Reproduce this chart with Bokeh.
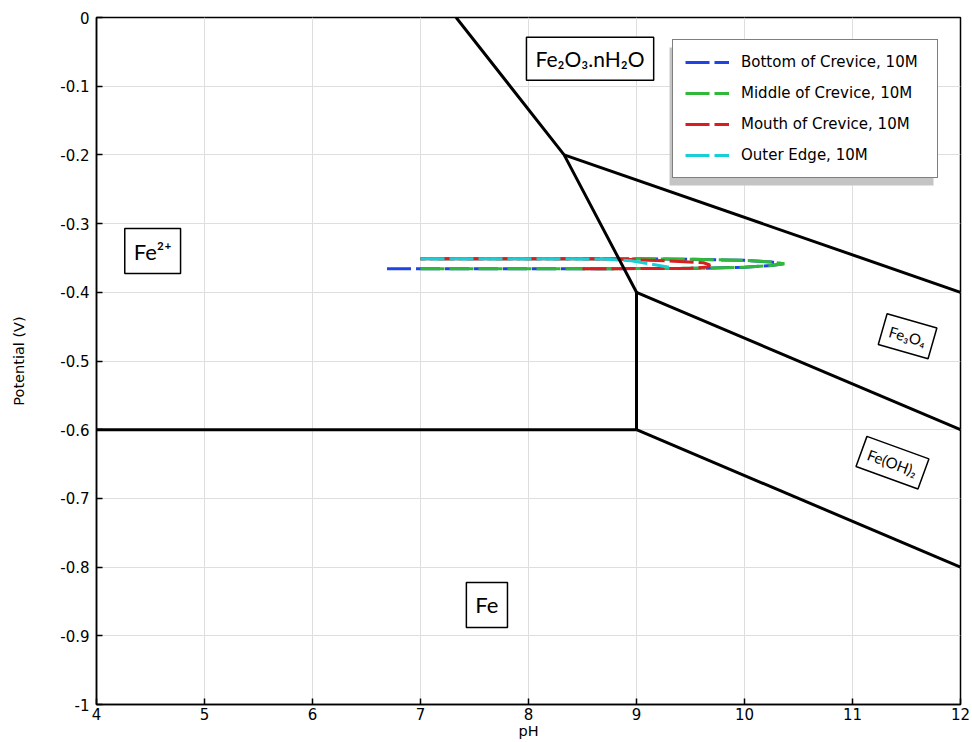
from bokeh.plotting import figure
from bokeh.models import FixedTicker, Label, BoxAnnotation
from bokeh.embed import file_html
from bokeh.resources import INLINE

# Iron Pourbaix boundaries (pH, potential in V)
boundary_ph = [[7.33, 8.33, 9.0, 9.0], [4.0, 9.0], [8.33, 12.0], [9.0, 12.0], [9.0, 12.0]]
boundary_v = [[0.0, -0.2, -0.4, -0.6], [-0.6, -0.6], [-0.2, -0.4], [-0.4, -0.6], [-0.6, -0.8]]

# Crevice trajectories (pH, potential)
bottom_ph = [6.69, 8.0, 9.0, 9.6, 10.0, 10.25, 10.36, 10.25, 10.0, 9.5, 9.0, 8.0, 7.0]
bottom_v = [-0.3658, -0.3658, -0.3655, -0.365, -0.3635, -0.361, -0.3586, -0.356, -0.3535, -0.352, -0.351, -0.351, -0.351]

middle_ph = [7.0, 8.0, 9.0, 9.6, 10.0, 10.25, 10.37, 10.25, 10.0, 9.5, 9.0, 8.0, 7.0]
middle_v = [-0.3658, -0.3658, -0.3655, -0.365, -0.3635, -0.361, -0.3586, -0.356, -0.3535, -0.352, -0.351, -0.351, -0.351]

mouth_ph = [8.5, 9.0, 9.5, 9.66, 9.68, 9.62, 9.3, 8.9, 8.4, 7.0]
mouth_v = [-0.3658, -0.3655, -0.365, -0.363, -0.360, -0.357, -0.3545, -0.352, -0.351, -0.351]

outer_ph = [7.0, 8.0, 8.7, 8.95, 9.1, 9.3]
outer_v = [-0.351, -0.351, -0.3515, -0.354, -0.358, -0.3635]

series_names = ["Bottom of Crevice, 10M", "Middle of Crevice, 10M",
                "Mouth of Crevice, 10M", "Outer Edge, 10M"]
series_ph = [bottom_ph, middle_ph, mouth_ph, outer_ph]
series_v = [bottom_v, middle_v, mouth_v, outer_v]
series_colors = ["#1e44e6", "#2fb83a", "#d81e1e", "#19cfd6"]

x_ticks = [4, 5, 6, 7, 8, 9, 10, 11, 12]
y_ticks = [-1.0, -0.9, -0.8, -0.7, -0.6, -0.5, -0.4, -0.3, -0.2, -0.1, 0.0]
y_tick_labels = ["-1", "-0.9", "-0.8", "-0.7", "-0.6", "-0.5", "-0.4", "-0.3", "-0.2", "-0.1", "0"]

# Stability region labels
region_text = ["Fe²⁺", "Fe₂O₃.nH₂O", "Fe", "Fe₃O₄", "Fe(OH)₂"]
region_ph = [4.52, 8.57, 7.615, 11.51, 11.37]
region_v = [-0.340, -0.060, -0.855, -0.464, -0.648]
region_angle = [0, 0, 0, -16, -20]
region_size = ["22px", "21px", "22px", "15px", "15px"]
region_pad = [9, 9, 9, 7, 7]

p = figure(width=972, height=742, output_backend="svg", toolbar_location=None,
           x_range=(4, 12), y_range=(-1, 0),
           min_border_left=96, min_border_right=12, min_border_top=17, min_border_bottom=38,
           x_axis_label="pH", y_axis_label="Potential (V)")
p.background_fill_color = "white"
p.border_fill_color = "white"
p.outline_line_color = "black"
p.outline_line_width = 1.5

p.xaxis.ticker = FixedTicker(ticks=x_ticks)
p.yaxis.ticker = FixedTicker(ticks=y_ticks)
p.yaxis.major_label_overrides = dict(zip(y_ticks, y_tick_labels))

for ax in (p.xaxis[0], p.yaxis[0]):
    ax.axis_line_color = "black"
    ax.axis_line_width = 1.5
    ax.major_tick_in = 6
    ax.major_tick_out = 0
    ax.major_tick_line_width = 1.5
    ax.minor_tick_line_color = None
    ax.major_label_text_font = "DejaVu Sans"
    ax.major_label_text_font_size = "15px"
    ax.major_label_text_color = "black"
    ax.axis_label_text_font = "DejaVu Sans"
    ax.axis_label_text_font_size = "14.5px"
    ax.axis_label_text_font_style = "normal"
    ax.axis_label_text_color = "black"
p.xaxis.major_label_standoff = 3
p.xaxis.axis_label_standoff = 0
p.yaxis.major_label_standoff = 7
p.yaxis.axis_label_standoff = 30

p.grid.grid_line_color = "#dedede"
p.grid.grid_line_width = 1

# legend drop shadow
p.add_layout(BoxAnnotation(left=9.306, right=11.75, top=-0.0437, bottom=-0.2445,
                           fill_color="#c4c4c4", fill_alpha=1.0, line_color=None))

for name, xs, ys, c in zip(series_names, series_ph, series_v, series_colors):
    p.line(xs, ys, line_color=c, line_width=3, line_dash="24 5", legend_label=name)

p.multi_line(boundary_ph, boundary_v, line_color="black", line_width=3)

for t, x, y, a, s, pad in zip(region_text, region_ph, region_v, region_angle, region_size, region_pad):
    p.add_layout(Label(x=x, y=y, text=t, angle=a, angle_units="deg",
                       text_align="center", text_baseline="middle",
                       text_font="Lato", text_font_size=s, text_color="black",
                       border_line_color="black", border_line_width=1.5,
                       background_fill_color="white", padding=pad))

lg = p.legend[0]
lg.location = "top_right"
lg.margin = 22
lg.border_line_color = "black"
lg.border_line_width = 1.2
lg.background_fill_alpha = 1.0
lg.label_text_font = "DejaVu Sans"
lg.label_text_font_size = "15px"
lg.label_text_color = "black"
lg.label_width = 184
lg.glyph_width = 44
lg.glyph_height = 20
lg.label_height = 20
lg.label_standoff = 12
lg.spacing = 11
lg.padding = 12

open("out.html", "w").write(file_html(p, INLINE))
